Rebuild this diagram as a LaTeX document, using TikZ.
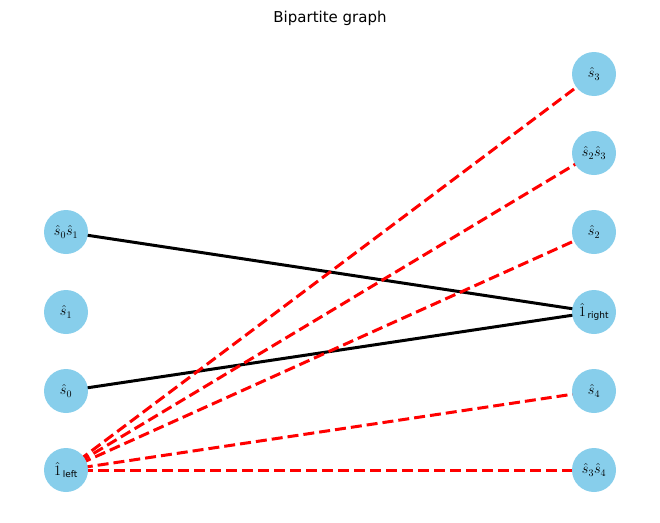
\documentclass[tikz,border=0pt]{standalone}
\usepackage{fontspec}
\setsansfont{DejaVu Sans}
\usetikzlibrary{positioning}
\pgfdeclarelayer{background}
\pgfsetlayers{background,main}
\definecolor{skyblue}{HTML}{87CEEB}
\tikzset{
  vertex/.style={circle, fill=skyblue, minimum size=44pt, inner sep=0pt, font=\fontsize{14}{16}\selectfont},
  solidedge/.style={line width=3pt, black},
  dashedge/.style={line width=3pt, red, dash pattern=on 11pt off 5pt}
}
\begin{document}
\begin{tikzpicture}[x=1pt, y=-1pt]
	\useasboundingbox (0,0) rectangle (660,522);
	\node[font=\sffamily\fontsize{15}{17}\selectfont] (title) at (330,18) {Bipartite graph};
	% left side
	\node[vertex] (l-1) at (66,232) {$\hat{s}_0\hat{s}_1$};
	\node[vertex] (l-2) at (66,312) {$\hat{s}_1$};
	\node[vertex] (l-3) at (66,391) {$\hat{s}_0$};
	\node[vertex] (l-4) at (66,470) {$\hat{1}_{\,\textsf{\fontsize{9}{10}\selectfont left}}$};
	% right side
	\node[vertex] (r-1) at (594,74) {$\hat{s}_3$};
	\node[vertex] (r-2) at (594,153) {$\hat{s}_2\hat{s}_3$};
	\node[vertex] (r-3) at (594,232) {$\hat{s}_2$};
	\node[vertex] (r-4) at (594,312) {$\hat{1}_{\,\textsf{\fontsize{9}{10}\selectfont right}}$};
	\node[vertex] (r-5) at (594,391) {$\hat{s}_4$};
	\node[vertex] (r-6) at (594,470) {$\hat{s}_3\hat{s}_4$};
	\begin{pgfonlayer}{background}
		\path[solidedge]
		(l-1.center) edge (r-4.center)
		(l-3.center) edge (r-4.center);
		\foreach \r in {1,2,3,5,6}
			\path[dashedge] (l-4.center) edge (r-\r.center);
	\end{pgfonlayer}
\end{tikzpicture}
\end{document}
